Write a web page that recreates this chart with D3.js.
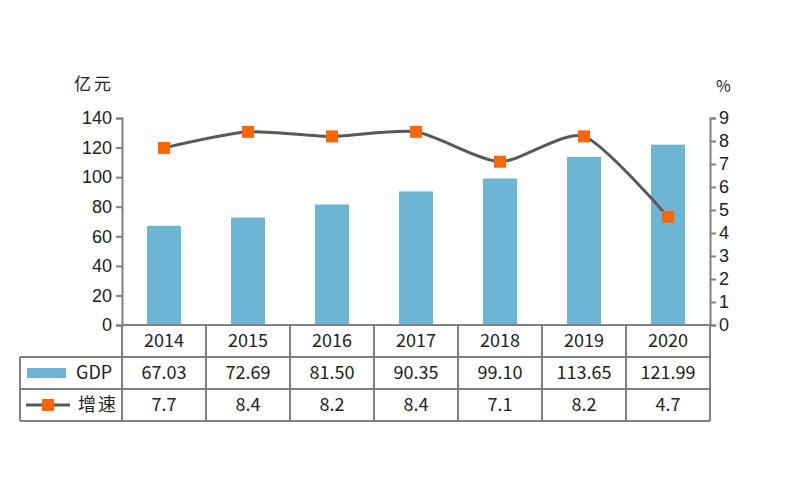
<!DOCTYPE html>
<html>
<head>
<meta charset="utf-8">
<script src="https://cdn.jsdelivr.net/npm/d3@7"></script>
<style>
  body { margin: 0; background: #fff; }
</style>
</head>
<body>
<script>
// GDP bars + growth line, with a data table underneath
var years = ["2014", "2015", "2016", "2017", "2018", "2019", "2020"];
var gdp = [67.03, 72.69, 81.50, 90.35, 99.10, 113.65, 121.99];
var gdpLabels = ["67.03", "72.69", "81.50", "90.35", "99.10", "113.65", "121.99"];
var growth = [7.7, 8.4, 8.2, 8.4, 7.1, 8.2, 4.7];
var leftTicks = [0, 20, 40, 60, 80, 100, 120, 140];
var rightTicks = [0, 1, 2, 3, 4, 5, 6, 7, 8, 9];

var W = 804, H = 483;
var x0 = 122, x1 = 710, yTop = 118, yBot = 325;
var rowH = 32, tableLeft = 20;
var barColor = "#6cb6d4", lineColor = "#595959", markColor = "#ff6600", gridColor = "#808080";
var cjk = "'Noto Sans CJK SC', sans-serif";

var svg = d3.select("body").append("svg")
    .attr("width", W)
    .attr("height", H);

var x = d3.scaleBand().domain(years).range([x0, x1]);
var yL = d3.scaleLinear().domain([0, 140]).range([yBot, yTop]);
var yR = d3.scaleLinear().domain([0, 9]).range([yBot, yTop]);

// bars
svg.append("g").selectAll("rect")
    .data(years)
    .enter().append("rect")
    .attr("x", function(d) { return x(d) + x.bandwidth() / 2 - 17; })
    .attr("width", 34)
    .attr("y", function(d, i) { return yL(gdp[i]); })
    .attr("height", function(d, i) { return yBot - yL(gdp[i]); })
    .attr("fill", barColor);

// axes
var leftAxis = svg.append("g")
    .attr("transform", "translate(" + x0 + ",0)")
    .call(d3.axisLeft(yL).tickValues(leftTicks).tickSize(6).tickPadding(4));
var rightAxis = svg.append("g")
    .attr("transform", "translate(" + x1 + ",0)")
    .call(d3.axisRight(yR).tickValues(rightTicks).tickSize(6).tickPadding(3));
[leftAxis, rightAxis].forEach(function(a) {
    a.select(".domain").attr("stroke", gridColor).attr("stroke-width", 2);
    a.selectAll(".tick line").attr("stroke", gridColor).attr("stroke-width", 2);
    a.selectAll(".tick text")
        .attr("fill", "#222")
        .style("font-family", "'Liberation Sans', Arial, sans-serif")
        .style("font-size", "18px");
});

svg.append("text").attr("x", 74).attr("y", 90)
    .style("font-family", cjk).style("font-size", "17px").style("letter-spacing", "3px")
    .attr("fill", "#222")
    .text("亿元");
svg.append("text").attr("x", 716).attr("y", 92)
    .style("font-family", cjk).style("font-size", "16px").attr("fill", "#222")
    .text("%");

// growth line
var line = d3.line()
    .x(function(d, i) { return x(years[i]) + x.bandwidth() / 2; })
    .y(function(d) { return yR(d); })
    .curve(d3.curveCardinal.tension(0.3));
svg.append("path")
    .datum(growth)
    .attr("d", line)
    .attr("fill", "none")
    .attr("stroke", lineColor)
    .attr("stroke-width", 3);
svg.append("g").selectAll("rect")
    .data(growth)
    .enter().append("rect")
    .attr("x", function(d, i) { return x(years[i]) + x.bandwidth() / 2 - 6; })
    .attr("y", function(d) { return yR(d) - 6; })
    .attr("width", 12)
    .attr("height", 12)
    .attr("fill", markColor);

// table grid
var grid = svg.append("g").attr("stroke", gridColor).attr("stroke-width", 2).attr("fill", "none");
grid.append("line").attr("x1", x0).attr("x2", x1).attr("y1", yBot).attr("y2", yBot);
[1, 2, 3].forEach(function(r) {
    grid.append("line").attr("x1", tableLeft).attr("x2", x1)
        .attr("y1", yBot + r * rowH).attr("y2", yBot + r * rowH);
});
grid.append("line").attr("x1", tableLeft).attr("x2", tableLeft)
    .attr("y1", yBot + rowH).attr("y2", yBot + 3 * rowH);
years.forEach(function(d) {
    grid.append("line").attr("x1", x(d)).attr("x2", x(d))
        .attr("y1", yBot).attr("y2", yBot + 3 * rowH);
});
grid.append("line").attr("x1", x1).attr("x2", x1)
    .attr("y1", yBot).attr("y2", yBot + 3 * rowH);

function cellText(vals, row) {
    svg.append("g").selectAll("text")
        .data(vals)
        .enter().append("text")
        .attr("x", function(d, i) { return x(years[i]) + x.bandwidth() / 2; })
        .attr("y", yBot + row * rowH + rowH / 2)
        .attr("dy", "0.36em")
        .attr("text-anchor", "middle")
        .style("font-family", cjk)
        .style("font-size", "18px")
        .attr("fill", "#222")
        .text(function(d) { return d; });
}
cellText(years, 0);
cellText(gdpLabels, 1);
cellText(growth.map(function(d) { return d.toFixed(1); }), 2);

// legend cells
var r2 = yBot + rowH + rowH / 2, r3 = yBot + 2 * rowH + rowH / 2;
svg.append("rect").attr("x", 27).attr("y", r2 - 5).attr("width", 39).attr("height", 10).attr("fill", barColor);
svg.append("text").attr("x", 76).attr("y", r2).attr("dy", "0.36em")
    .style("font-family", cjk).style("font-size", "18px").attr("fill", "#222").text("GDP");
svg.append("line").attr("x1", 26).attr("x2", 70).attr("y1", r3).attr("y2", r3)
    .attr("stroke", lineColor).attr("stroke-width", 3);
svg.append("rect").attr("x", 42).attr("y", r3 - 6).attr("width", 12).attr("height", 12).attr("fill", markColor);
svg.append("text").attr("x", 78).attr("y", r3).attr("dy", "0.36em")
    .style("font-family", cjk).style("font-size", "18px").style("letter-spacing", "2px")
    .attr("fill", "#222").text("增速");
</script>
</body>
</html>
